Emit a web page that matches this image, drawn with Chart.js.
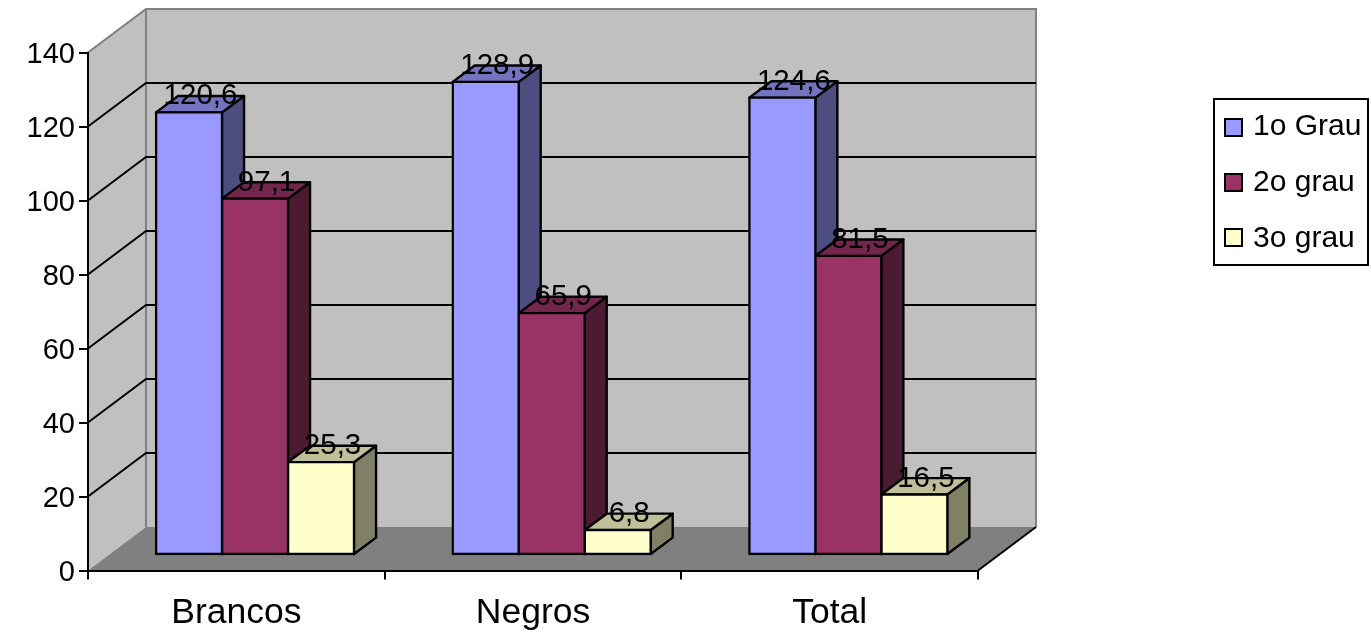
<!DOCTYPE html>
<html>
<head>
<meta charset="utf-8">
<title>Chart</title>
<script src="https://cdn.jsdelivr.net/npm/chart.js@4/dist/chart.umd.js"></script>
<style>
    html, body { margin: 0; padding: 0; background: #ffffff; }
    canvas { display: block; }
</style>
</head>
<body>
<canvas id="chart" width="1371" height="637"></canvas>
<script>
var categories = ['Brancos', 'Negros', 'Total'];
var series_names = ['1o Grau', '2o grau', '3o grau'];
var grau_1 = [120.6, 128.9, 124.6];
var grau_2 = [97.1, 65.9, 81.5];
var grau_3 = [25.3, 6.8, 16.5];

var front_colors = ['#9999FF', '#993366', '#FFFFCC'];
var side_colors = ['#4D4D80', '#4D1A33', '#808066'];
var top_colors = ['#7373BF', '#73264D', '#BFBF99'];

var font_name = '"Liberation Sans", Arial, sans-serif';
// the room behind the axes and the depth of one bar
var wall = { dx: 58, dy: 43.5 };
var bar_shift = { dx: 18.7, dy: 15.5 };
var bar_depth = { dx: 22, dy: 16.5 };
// the bars stand a little lower than the axis says
var bar_squash = 0.992;

var room_plugin = {
    id: 'room',
    beforeDraw: function(chart) {
        var ctx = chart.ctx;
        var x = chart.scales.x;
        var y = chart.scales.y;
        var back_left = x.left + wall.dx;
        var back_right = x.right + wall.dx;
        var back_top = y.top - wall.dy;
        var back_bottom = y.bottom - wall.dy;

        ctx.save();
        // back wall and left wall
        ctx.fillStyle = '#C0C0C0';
        ctx.strokeStyle = '#808080';
        ctx.lineWidth = 2;
        ctx.beginPath();
        ctx.moveTo(x.left, y.top);
        ctx.lineTo(back_left, back_top);
        ctx.lineTo(back_right, back_top);
        ctx.lineTo(back_right, back_bottom);
        ctx.lineTo(back_left, back_bottom);
        ctx.lineTo(x.left, y.bottom);
        ctx.closePath();
        ctx.fill();
        ctx.beginPath();
        ctx.moveTo(x.left, y.bottom);
        ctx.lineTo(x.left, y.top);
        ctx.lineTo(back_left, back_top);
        ctx.lineTo(back_right, back_top);
        ctx.lineTo(back_right, back_bottom);
        ctx.moveTo(back_left, back_top);
        ctx.lineTo(back_left, back_bottom);
        ctx.stroke();

        // grid lines, not on the floor and not on the top edge
        ctx.strokeStyle = '#000000';
        y.ticks.forEach(function(t) {
            if (t.value == y.min || t.value == y.max) {
                return;
            }
            var py = y.getPixelForValue(t.value);
            ctx.beginPath();
            ctx.moveTo(x.left, py);
            ctx.lineTo(back_left, py - wall.dy);
            ctx.lineTo(back_right, py - wall.dy);
            ctx.stroke();
        });

        // floor
        ctx.fillStyle = '#808080';
        ctx.beginPath();
        ctx.moveTo(x.left, y.bottom);
        ctx.lineTo(back_left, back_bottom);
        ctx.lineTo(back_right, back_bottom);
        ctx.lineTo(x.right, y.bottom);
        ctx.closePath();
        ctx.fill();
        ctx.strokeStyle = '#000000';
        ctx.beginPath();
        ctx.moveTo(x.right, y.bottom);
        ctx.lineTo(back_right, back_bottom);
        ctx.stroke();

        // y labels, by hand so they sit centred on their ticks
        ctx.fillStyle = '#000000';
        ctx.font = '29px ' + font_name;
        ctx.textAlign = 'right';
        ctx.textBaseline = 'alphabetic';
        y.ticks.forEach(function(t) {
            ctx.fillText(t.label, 75, y.getPixelForValue(t.value) + 10.5);
        });
        ctx.restore();
    },
    beforeDatasetsDraw: function(chart) {
        var ctx = chart.ctx;
        var base = chart.scales.y.getPixelForValue(0);
        ctx.save();
        ctx.translate(bar_shift.dx, -bar_shift.dy + base * (1 - bar_squash));
        ctx.scale(1, bar_squash);
        // sides and tops first, the library then paints the fronts over them
        ctx.strokeStyle = '#000000';
        ctx.lineWidth = 2.4;
        ctx.lineJoin = 'round';
        chart.data.datasets.forEach(function(ds, i) {
            chart.getDatasetMeta(i).data.forEach(function(bar) {
                var left = bar.x - bar.width / 2;
                var right = bar.x + bar.width / 2;
                ctx.fillStyle = side_colors[i];
                ctx.beginPath();
                ctx.moveTo(right, bar.y);
                ctx.lineTo(right + bar_depth.dx, bar.y - bar_depth.dy);
                ctx.lineTo(right + bar_depth.dx, bar.base - bar_depth.dy);
                ctx.lineTo(right, bar.base);
                ctx.closePath();
                ctx.fill();
                ctx.stroke();
                ctx.fillStyle = top_colors[i];
                ctx.beginPath();
                ctx.moveTo(left, bar.y);
                ctx.lineTo(left + bar_depth.dx, bar.y - bar_depth.dy);
                ctx.lineTo(right + bar_depth.dx, bar.y - bar_depth.dy);
                ctx.lineTo(right, bar.y);
                ctx.closePath();
                ctx.fill();
                ctx.stroke();
            });
        });
    },
    afterDatasetsDraw: function(chart) {
        var ctx = chart.ctx;
        // still shifted from beforeDatasetsDraw
        ctx.fillStyle = '#000000';
        ctx.font = '29.5px ' + font_name;
        ctx.textAlign = 'center';
        ctx.textBaseline = 'alphabetic';
        chart.data.datasets.forEach(function(ds, i) {
            chart.getDatasetMeta(i).data.forEach(function(bar, j) {
                var label = String(ds.data[j]).replace('.', ',');
                ctx.fillText(label, bar.x + 11.5, bar.y - 8);
            });
        });
        ctx.restore();
    },
    afterDraw: function(chart) {
        var ctx = chart.ctx;
        ctx.save();
        ctx.fillStyle = '#ffffff';
        ctx.strokeStyle = '#000000';
        ctx.lineWidth = 2;
        ctx.fillRect(1214, 99, 154, 166);
        ctx.strokeRect(1214, 99, 154, 166);
        ctx.font = '30px ' + font_name;
        ctx.textAlign = 'left';
        ctx.textBaseline = 'alphabetic';
        var swatch_y = [119, 174, 229];
        var text_y = [135, 191, 247];
        chart.data.datasets.forEach(function(ds, i) {
            ctx.fillStyle = front_colors[i];
            ctx.fillRect(1225, swatch_y[i], 17, 17);
            ctx.strokeRect(1225, swatch_y[i], 17, 17);
            ctx.fillStyle = '#000000';
            ctx.fillText(ds.label, 1253, text_y[i]);
        });
        ctx.restore();
    }
};

function make_dataset(label, values, index) {
    return {
        label: label,
        data: values,
        backgroundColor: front_colors[index],
        borderColor: '#000000',
        borderWidth: 2.4,
        borderSkipped: false,
        inflateAmount: 1.2,
        clip: false,
        barPercentage: 1,
        categoryPercentage: 198 / 296.67
    };
}

new Chart(document.getElementById('chart'), {
    type: 'bar',
    data: {
        labels: categories,
        datasets: [
            make_dataset(series_names[0], grau_1, 0),
            make_dataset(series_names[1], grau_2, 1),
            make_dataset(series_names[2], grau_3, 2)
        ]
    },
    options: {
        responsive: false,
        animation: false,
        layout: { padding: { top: 52.5, right: 393, bottom: 0, left: 0 } },
        plugins: {
            legend: { display: false },
            title: { display: false },
            tooltip: { enabled: false }
        },
        scales: {
            x: {
                afterFit: function(scale) { scale.height = 66.5; },
                border: { color: '#000000', width: 2 },
                grid: { drawOnChartArea: false, color: '#000000', lineWidth: 2, tickLength: 9 },
                ticks: {
                    color: '#000000',
                    maxRotation: 0,
                    padding: 12,
                    font: { family: font_name, size: 35.5 }
                }
            },
            y: {
                min: 0,
                max: 140,
                afterFit: function(scale) { scale.width = 88; },
                border: { color: '#000000', width: 2 },
                grid: { drawOnChartArea: false, color: '#000000', lineWidth: 2, tickLength: 9 },
                ticks: {
                    display: false,
                    stepSize: 20
                }
            }
        }
    },
    plugins: [room_plugin]
});
</script>
</body>
</html>
